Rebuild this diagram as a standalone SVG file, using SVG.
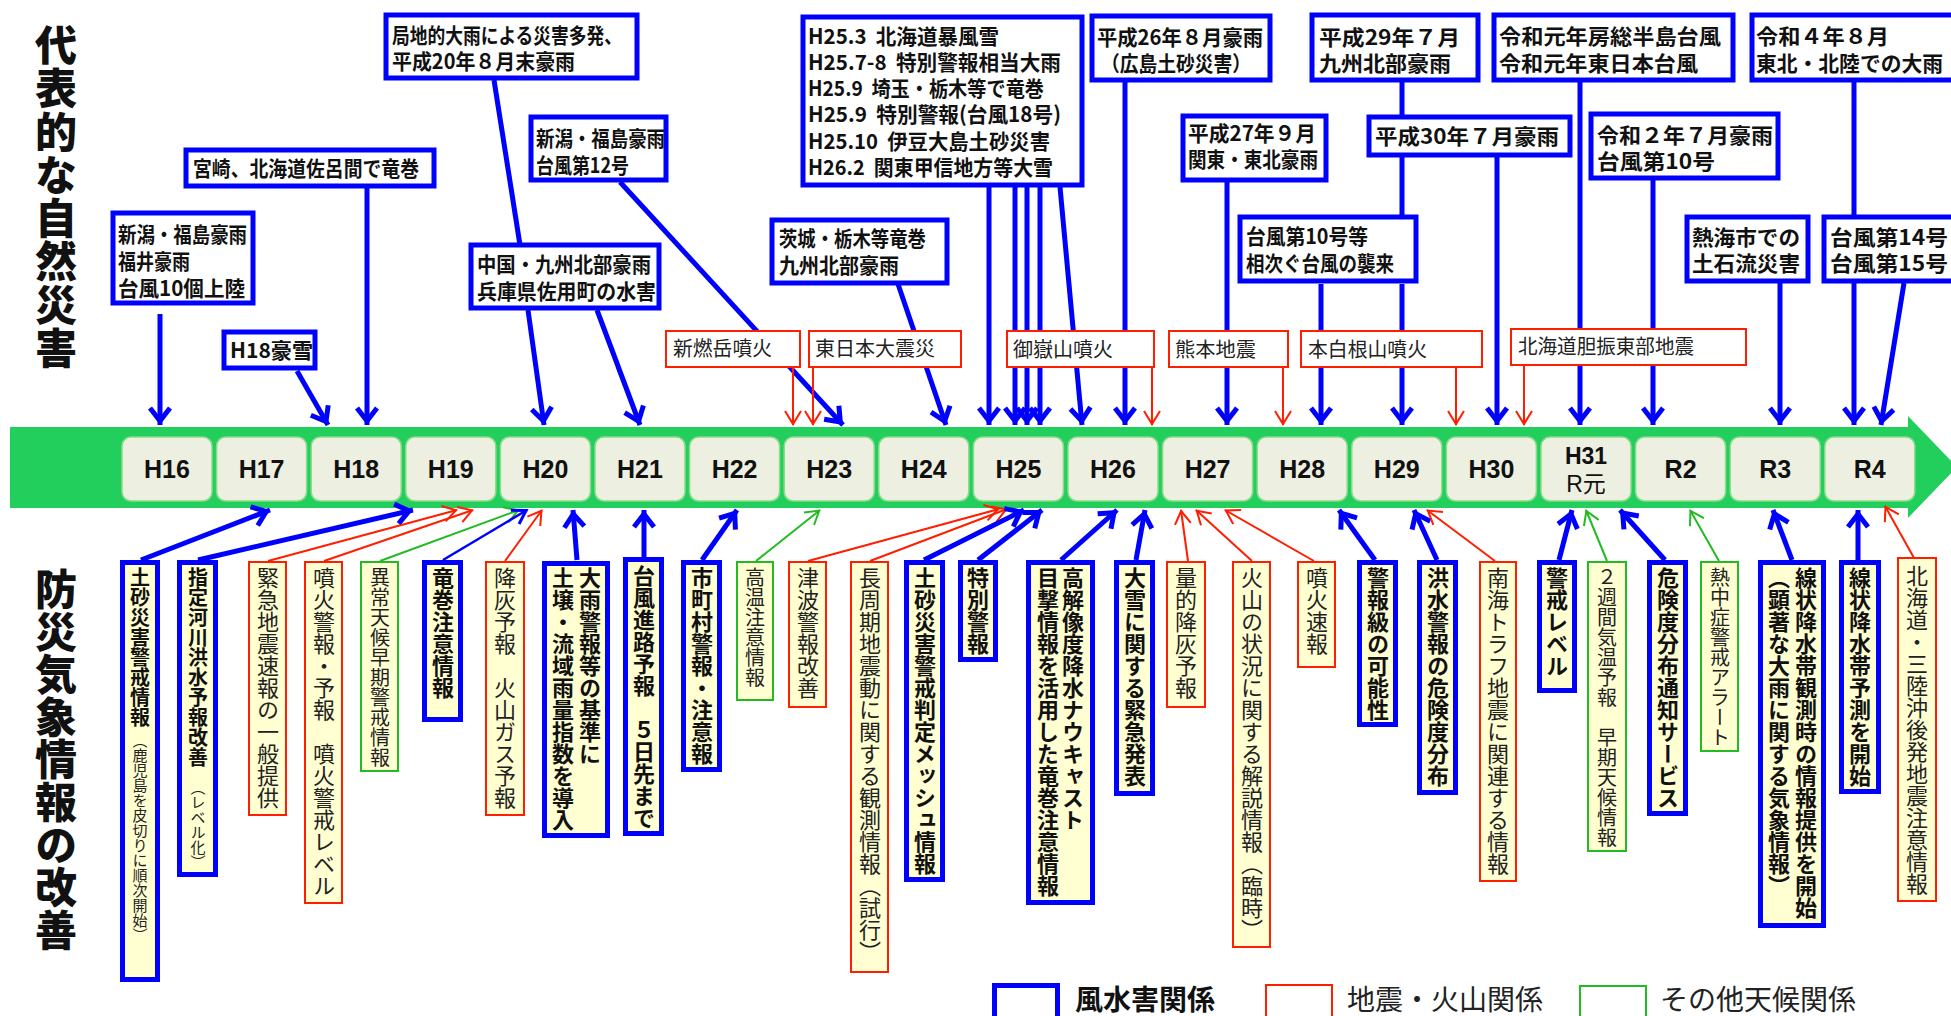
<svg xmlns="http://www.w3.org/2000/svg" width="1951" height="1016" viewBox="0 0 1951 1016">
<defs>
<style>
.tb{fill:#fff;stroke:#0000FF;stroke-width:5}
.tr{fill:#fff;stroke:#FF1E00;stroke-width:2}
.bb{fill:#FFFFD2;stroke:#0000FF;stroke-width:5}
.br{fill:#FFFFD2;stroke:#FF1E00;stroke-width:2}
.bg{fill:#FFFFD2;stroke:#22BB22;stroke-width:2}
.ht{font-family:"Noto Sans CJK JP","Liberation Sans",sans-serif;font-size:21px;font-weight:700;fill:#111}
.hr{font-family:"Noto Sans CJK JP","Liberation Sans",sans-serif;font-size:20px;font-weight:400;fill:#222}
.v{writing-mode:vertical-rl;font-family:"Noto Sans CJK JP",sans-serif;font-size:22px;font-weight:400;fill:#222}
.vb{font-weight:700;fill:#111}
.v20{font-size:20px}
.v15{font-size:15px}
.tt{writing-mode:vertical-rl;font-family:"Noto Sans CJK JP",sans-serif;font-size:42px;font-weight:900;fill:#111}
.yr{font-family:"Liberation Sans","Noto Sans CJK JP",sans-serif;font-size:25px;font-weight:700;fill:#111;text-anchor:middle}
.yb{fill:#EDEFE1;stroke:#8ADB8A;stroke-width:1.5}
.lg{font-family:"Noto Sans CJK JP",sans-serif;font-size:28px;fill:#222}
.cb{fill:none;stroke:#0000FF;stroke-width:5}
.cbt{fill:none;stroke:#0000FF;stroke-width:2.5}
.cr{fill:none;stroke:#FF1E00;stroke-width:2}
.cg{fill:none;stroke:#22BB22;stroke-width:2}
.ab{marker-end:url(#mb)}
.abt{marker-end:url(#mbt)}
.ar{marker-end:url(#mr)}
.ag{marker-end:url(#mg)}
</style>
<marker id="mb" markerUnits="userSpaceOnUse" viewBox="-22 -14 26 28" refX="0" refY="0" markerWidth="26" markerHeight="28" orient="auto" overflow="visible">
<path d="M-17,-10 L-4,0 L-17,10" fill="none" stroke="#0000FF" stroke-width="5"/>
</marker>
<marker id="mbt" markerUnits="userSpaceOnUse" viewBox="-22 -14 26 28" refX="0" refY="0" markerWidth="26" markerHeight="28" orient="auto" overflow="visible">
<path d="M-14,-8 L-1,0 L-14,8" fill="none" stroke="#0000FF" stroke-width="3"/>
</marker>
<marker id="mr" markerUnits="userSpaceOnUse" viewBox="-22 -14 26 28" refX="0" refY="0" markerWidth="26" markerHeight="28" orient="auto" overflow="visible">
<path d="M-14,-8 L-1,0 L-14,8" fill="none" stroke="#FF1E00" stroke-width="2"/>
</marker>
<marker id="mg" markerUnits="userSpaceOnUse" viewBox="-22 -14 26 28" refX="0" refY="0" markerWidth="26" markerHeight="28" orient="auto" overflow="visible">
<path d="M-14,-8 L-1,0 L-14,8" fill="none" stroke="#22BB22" stroke-width="2"/>
</marker>
</defs>

<g id="titles">
<text class="tt" x="56" y="24" style="letter-spacing:1.3px">代表的な自然災害</text>
<text class="tt" x="56" y="568" style="letter-spacing:0.6px">防災気象情報の改善</text>
</g>

<g id="timeline">
<path d="M10,427 H1908 V416 L1957,467 L1908,518 V508 H10 Z" fill="#22CF5C"/>
<rect class="yb" x="122" y="437" width="90" height="64" rx="9"/><text class="yr" x="167" y="478">H16</text>
<rect class="yb" x="216.6" y="437" width="90" height="64" rx="9"/><text class="yr" x="261.6" y="478">H17</text>
<rect class="yb" x="311.2" y="437" width="90" height="64" rx="9"/><text class="yr" x="356.2" y="478">H18</text>
<rect class="yb" x="405.8" y="437" width="90" height="64" rx="9"/><text class="yr" x="450.8" y="478">H19</text>
<rect class="yb" x="500.4" y="437" width="90" height="64" rx="9"/><text class="yr" x="545.4" y="478">H20</text>
<rect class="yb" x="595" y="437" width="90" height="64" rx="9"/><text class="yr" x="640" y="478">H21</text>
<rect class="yb" x="689.6" y="437" width="90" height="64" rx="9"/><text class="yr" x="734.6" y="478">H22</text>
<rect class="yb" x="784.2" y="437" width="90" height="64" rx="9"/><text class="yr" x="829.2" y="478">H23</text>
<rect class="yb" x="878.8" y="437" width="90" height="64" rx="9"/><text class="yr" x="923.8" y="478">H24</text>
<rect class="yb" x="973.4" y="437" width="90" height="64" rx="9"/><text class="yr" x="1018.4" y="478">H25</text>
<rect class="yb" x="1068" y="437" width="90" height="64" rx="9"/><text class="yr" x="1113" y="478">H26</text>
<rect class="yb" x="1162.6" y="437" width="90" height="64" rx="9"/><text class="yr" x="1207.6" y="478">H27</text>
<rect class="yb" x="1257.2" y="437" width="90" height="64" rx="9"/><text class="yr" x="1302.2" y="478">H28</text>
<rect class="yb" x="1351.8" y="437" width="90" height="64" rx="9"/><text class="yr" x="1396.8" y="478">H29</text>
<rect class="yb" x="1446.4" y="437" width="90" height="64" rx="9"/><text class="yr" x="1491.4" y="478">H30</text>
<rect class="yb" x="1541" y="437" width="90" height="64" rx="9"/><text class="yr" x="1586" y="464" style="font-size:23px">H31</text><text class="yr" x="1586" y="492" style="font-size:23px;font-weight:400">R元</text>
<rect class="yb" x="1635.6" y="437" width="90" height="64" rx="9"/><text class="yr" x="1680.6" y="478">R2</text>
<rect class="yb" x="1730.2" y="437" width="90" height="64" rx="9"/><text class="yr" x="1775.2" y="478">R3</text>
<rect class="yb" x="1824.8" y="437" width="90" height="64" rx="9"/><text class="yr" x="1869.8" y="478">R4</text>
</g>

<g id="connectors">
<path class="cb ab" d="M160,314 L160,425"/>
<path class="cb ab" d="M297,371 L328,425"/>
<path class="cb ab" d="M367,188 L367,425"/>
<path class="cb" d="M494,80 L520,245"/>
<path class="cb ab" d="M528,310 L544,425"/>
<path class="cb ab" d="M597,310 L640,425"/>
<path class="cb ab" d="M620,182 L843,425"/>
<path class="cb ab" d="M898,284 L946,425"/>
<path class="cb ab" d="M989,187 L989,425"/>
<path class="cb ab" d="M1015,187 L1015,425"/>
<path class="cb ab" d="M1027,187 L1027,425"/>
<path class="cb ab" d="M1040,187 L1040,425"/>
<path class="cb ab" d="M1060,187 L1082,425"/>
<path class="cb ab" d="M1125,82 L1125,425"/>
<path class="cb ab" d="M1227,182 L1227,425"/>
<path class="cb ab" d="M1321,284 L1321,425"/>
<path class="cb" d="M1402,82 L1402,117 M1402,157 L1402,217"/>
<path class="cb ab" d="M1402,284 L1402,425"/>
<path class="cb ab" d="M1497,157 L1497,425"/>
<path class="cb ab" d="M1580,82 L1580,425"/>
<path class="cb ab" d="M1653,180 L1653,425"/>
<path class="cb ab" d="M1780,283 L1780,425"/>
<path class="cb" d="M1854,82 L1854,217"/>
<path class="cb ab" d="M1854,283 L1854,425"/>
<path class="cb ab" d="M1904,283 L1881,425"/>
<path class="cr ar" d="M793,368 L793,425"/>
<path class="cr ar" d="M813,367 L813,425"/>
<path class="cr ar" d="M1152,368 L1152,425"/>
<path class="cr ar" d="M1283,368 L1283,425"/>
<path class="cr ar" d="M1456,368 L1456,425"/>
<path class="cr ar" d="M1524,365 L1524,425"/>

<path class="cb ab" d="M141,560 L270,510"/>
<path class="cb ab" d="M198,560 L413,510"/>
<path class="cr ar" d="M268,561 L457,510"/>
<path class="cr ar" d="M324,561 L473,510"/>
<path class="cg ag" d="M380,561 L519,510"/>
<path class="cbt abt" d="M443,560 L527,510"/>
<path class="cr ar" d="M505,561 L542,510"/>
<path class="cb ab" d="M577,560 L573,510"/>
<path class="cb ab" d="M644,558 L644,510"/>
<path class="cb ab" d="M702,560 L737,510"/>
<path class="cg ag" d="M756,561 L820,510"/>
<path class="cr ar" d="M808,561 L999,509"/>
<path class="cr ar" d="M870,561 L1007,509"/>
<path class="cb ab" d="M924,560 L1024,510"/>
<path class="cb ab" d="M978,560 L1042,510"/>
<path class="cb ab" d="M1061,560 L1117,510"/>
<path class="cb ab" d="M1136,560 L1145,510"/>
<path class="cr ar" d="M1188,561 L1181,510"/>
<path class="cr ar" d="M1252,561 L1196,510"/>
<path class="cr ar" d="M1314,561 L1225,510"/>
<path class="cb ab" d="M1375,560 L1339,510"/>
<path class="cb ab" d="M1437,560 L1414,510"/>
<path class="cr ar" d="M1495,561 L1427,510"/>
<path class="cb ab" d="M1559,560 L1572,510"/>
<path class="cg ag" d="M1607,561 L1586,510"/>
<path class="cb ab" d="M1665,560 L1620,510"/>
<path class="cg ag" d="M1719,561 L1690,510"/>
<path class="cb ab" d="M1792,560 L1773,510"/>
<path class="cb ab" d="M1858,560 L1858,510"/>
<path class="cr ar" d="M1914,558 L1885,506"/>
</g>

<g id="disasters">
<g id="d-h16"><rect class="tb" x="113" y="213" width="140" height="90"/>
<text class="ht" x="118" y="242" textLength="129" lengthAdjust="spacingAndGlyphs">新潟・福島豪雨</text>
<text class="ht" x="118" y="269" textLength="72" lengthAdjust="spacingAndGlyphs">福井豪雨</text>
<text class="ht" x="118" y="296" textLength="127" lengthAdjust="spacingAndGlyphs">台風10個上陸</text></g>
<g id="d-h18snow"><rect class="tb" x="224" y="332" width="91" height="36"/>
<text class="ht" x="230" y="358" textLength="83" lengthAdjust="spacingAndGlyphs">H18豪雪</text></g>
<g id="d-tornado"><rect class="tb" x="186" y="150" width="248" height="36"/>
<text class="ht" x="193" y="176" textLength="226" lengthAdjust="spacingAndGlyphs">宮崎、北海道佐呂間で竜巻</text></g>
<g id="d-h20"><rect class="tb" x="386" y="15" width="251" height="63"/>
<text class="ht" x="392" y="43" textLength="230" lengthAdjust="spacingAndGlyphs">局地的大雨による災害多発、</text>
<text class="ht" x="392" y="69" textLength="183" lengthAdjust="spacingAndGlyphs">平成20年８月末豪雨</text></g>
<g id="d-h21"><rect class="tb" x="471" y="245" width="188" height="63"/>
<text class="ht" x="477" y="272" textLength="174" lengthAdjust="spacingAndGlyphs">中国・九州北部豪雨</text>
<text class="ht" x="477" y="299" textLength="179" lengthAdjust="spacingAndGlyphs">兵庫県佐用町の水害</text></g>
<g id="d-h23"><rect class="tb" x="531" y="117" width="135" height="63"/>
<text class="ht" x="536" y="146" textLength="129" lengthAdjust="spacingAndGlyphs">新潟・福島豪雨</text>
<text class="ht" x="536" y="173" textLength="93" lengthAdjust="spacingAndGlyphs">台風第12号</text></g>
<g id="d-h24"><rect class="tb" x="772" y="220" width="175" height="63"/>
<text class="ht" x="779" y="246" textLength="147" lengthAdjust="spacingAndGlyphs">茨城・栃木等竜巻</text>
<text class="ht" x="779" y="273" textLength="120" lengthAdjust="spacingAndGlyphs">九州北部豪雨</text></g>
<g id="d-h25"><rect class="tb" x="803" y="17" width="279" height="168"/>
<text class="ht" x="808" y="44" textLength="191" lengthAdjust="spacingAndGlyphs">H25.3&#160;&#160;北海道暴風雪</text>
<text class="ht" x="808" y="70" textLength="253" lengthAdjust="spacingAndGlyphs">H25.7-8&#160;&#160;特別警報相当大雨</text>
<text class="ht" x="808" y="96" textLength="236" lengthAdjust="spacingAndGlyphs">H25.9&#160;&#160;埼玉・栃木等で竜巻</text>
<text class="ht" x="808" y="122" textLength="253" lengthAdjust="spacingAndGlyphs">H25.9&#160;&#160;特別警報(台風18号)</text>
<text class="ht" x="808" y="149" textLength="242" lengthAdjust="spacingAndGlyphs">H25.10&#160;&#160;伊豆大島土砂災害</text>
<text class="ht" x="808" y="175" textLength="245" lengthAdjust="spacingAndGlyphs">H26.2&#160;&#160;関東甲信地方等大雪</text></g>
<g id="d-h26"><rect class="tb" x="1092" y="16" width="178" height="64"/>
<text class="ht" x="1097" y="45" textLength="166" lengthAdjust="spacingAndGlyphs">平成26年８月豪雨</text>
<text class="ht" x="1101" y="71" textLength="150" lengthAdjust="spacingAndGlyphs">（広島土砂災害）</text></g>
<g id="d-h27"><rect class="tb" x="1183" y="116" width="143" height="64"/>
<text class="ht" x="1188" y="141" textLength="128" lengthAdjust="spacingAndGlyphs">平成27年９月</text>
<text class="ht" x="1188" y="167" textLength="130" lengthAdjust="spacingAndGlyphs">関東・東北豪雨</text></g>
<g id="d-h28"><rect class="tb" x="1240" y="217" width="176" height="64"/>
<text class="ht" x="1246" y="244" textLength="122" lengthAdjust="spacingAndGlyphs">台風第10号等</text>
<text class="ht" x="1246" y="271" textLength="148" lengthAdjust="spacingAndGlyphs">相次ぐ台風の襲来</text></g>
<g id="d-h29"><rect class="tb" x="1312" y="15" width="166" height="65"/>
<text class="ht" x="1319" y="45" textLength="141" lengthAdjust="spacingAndGlyphs">平成29年７月</text>
<text class="ht" x="1319" y="71" textLength="132" lengthAdjust="spacingAndGlyphs">九州北部豪雨</text></g>
<g id="d-h30"><rect class="tb" x="1369" y="117" width="201" height="38"/>
<text class="ht" x="1375" y="144" textLength="184" lengthAdjust="spacingAndGlyphs">平成30年７月豪雨</text></g>
<g id="d-r1"><rect class="tb" x="1494" y="15" width="239" height="65"/>
<text class="ht" x="1499" y="44" textLength="222" lengthAdjust="spacingAndGlyphs">令和元年房総半島台風</text>
<text class="ht" x="1499" y="71" textLength="199" lengthAdjust="spacingAndGlyphs">令和元年東日本台風</text></g>
<g id="d-r2"><rect class="tb" x="1591" y="114" width="187" height="64"/>
<text class="ht" x="1597" y="143" textLength="176" lengthAdjust="spacingAndGlyphs">令和２年７月豪雨</text>
<text class="ht" x="1597" y="169" textLength="118" lengthAdjust="spacingAndGlyphs">台風第10号</text></g>
<g id="d-r3"><rect class="tb" x="1687" y="217" width="121" height="64"/>
<text class="ht" x="1692" y="245" textLength="108" lengthAdjust="spacingAndGlyphs">熱海市での</text>
<text class="ht" x="1692" y="271" textLength="108" lengthAdjust="spacingAndGlyphs">土石流災害</text></g>
<g id="d-r4a"><rect class="tb" x="1752" y="15" width="230" height="65"/>
<text class="ht" x="1756" y="44" textLength="133" lengthAdjust="spacingAndGlyphs">令和４年８月</text>
<text class="ht" x="1756" y="71" textLength="187" lengthAdjust="spacingAndGlyphs">東北・北陸での大雨</text></g>
<g id="d-r4b"><rect class="tb" x="1824" y="217" width="160" height="64"/>
<text class="ht" x="1830" y="245" textLength="118" lengthAdjust="spacingAndGlyphs">台風第14号</text>
<text class="ht" x="1830" y="271" textLength="118" lengthAdjust="spacingAndGlyphs">台風第15号</text></g>
<g id="e-shinmoe"><rect class="tr" x="666" y="331" width="134" height="36"/>
<text class="hr" x="673" y="356" textLength="99" lengthAdjust="spacingAndGlyphs">新燃岳噴火</text></g>
<g id="e-tohoku"><rect class="tr" x="809" y="331" width="152" height="36"/>
<text class="hr" x="815" y="356" textLength="120" lengthAdjust="spacingAndGlyphs">東日本大震災</text></g>
<g id="e-ontake"><rect class="tr" x="1007" y="331" width="147" height="36"/>
<text class="hr" x="1013" y="357" textLength="100" lengthAdjust="spacingAndGlyphs">御嶽山噴火</text></g>
<g id="e-kumamoto"><rect class="tr" x="1169" y="331" width="119" height="36"/>
<text class="hr" x="1175" y="357" textLength="81" lengthAdjust="spacingAndGlyphs">熊本地震</text></g>
<g id="e-kusatsu"><rect class="tr" x="1301" y="331" width="181" height="36"/>
<text class="hr" x="1308" y="357" textLength="119" lengthAdjust="spacingAndGlyphs">本白根山噴火</text></g>
<g id="e-iburi"><rect class="tr" x="1511" y="329" width="235" height="36"/>
<text class="hr" x="1518" y="354" textLength="176" lengthAdjust="spacingAndGlyphs">北海道胆振東部地震</text></g>
</g>

<g id="improvements">
<g id="i01"><rect class="bb" x="122.5" y="562.5" width="35" height="417"/>
<text class="v vb v20" x="140" y="567">土砂災害警戒情報</text>
<text class="v v15" x="140" y="733">（鹿児島を皮切りに順次開始）</text></g>
<g id="i02"><rect class="bb" x="179.5" y="562.5" width="36" height="312"/>
<text class="v vb v20" x="198" y="567">指定河川洪水予報改善</text>
<text class="v v15" x="198" y="780">（レベル化）</text></g>
<g id="i03"><rect class="br" x="249" y="562" width="37" height="253"/>
<text class="v" x="268" y="567">緊急地震速報の一般提供</text></g>
<g id="i04"><rect class="br" x="305" y="562" width="37" height="341"/>
<text class="v" x="324" y="567">噴火警報・予報　噴火警戒レベル</text></g>
<g id="i05"><rect class="bg" x="361" y="562" width="37" height="209"/>
<text class="v v20" x="380" y="567">異常天候早期警戒情報</text></g>
<g id="i06"><rect class="bb" x="424.5" y="562.5" width="36" height="157"/>
<text class="v vb" x="443" y="567">竜巻注意情報</text></g>
<g id="i07"><rect class="br" x="486" y="562" width="38" height="253"/>
<text class="v" x="505" y="567">降灰予報　火山ガス予報</text></g>
<g id="i08"><rect class="bb" x="544.5" y="563.5" width="63" height="272"/>
<text class="v vb" x="590" y="567">大雨警報等の基準に</text>
<text class="v vb" x="563" y="567">土壌・流域雨量指数を導入</text></g>
<g id="i09"><rect class="bb" x="625.5" y="559.5" width="36" height="274"/>
<text class="v vb" x="644" y="565">台風進路予報　５日先まで</text></g>
<g id="i10"><rect class="bb" x="683.5" y="562.5" width="36" height="207"/>
<text class="v vb" x="702" y="567">市町村警報・注意報</text></g>
<g id="i11"><rect class="bg" x="737" y="562" width="36" height="138"/>
<text class="v v20" x="755" y="567">高温注意情報</text></g>
<g id="i12"><rect class="br" x="789" y="562" width="37" height="145"/>
<text class="v" x="808" y="567">津波警報改善</text></g>
<g id="i13"><rect class="br" x="851" y="562" width="37" height="410"/>
<text class="v" x="870" y="567">長周期地震動に関する観測情報（試行）</text></g>
<g id="i14"><rect class="bb" x="906.5" y="562.5" width="36" height="317"/>
<text class="v vb" x="925" y="567">土砂災害警戒判定メッシュ情報</text></g>
<g id="i15"><rect class="bb" x="960.5" y="562.5" width="35" height="97"/>
<text class="v vb" x="978" y="567">特別警報</text></g>
<g id="i16"><rect class="bb" x="1028.5" y="562.5" width="64" height="340"/>
<text class="v vb" x="1073" y="567">高解像度降水ナウキャスト</text>
<text class="v vb" x="1048" y="567">目撃情報を活用した竜巻注意情報</text></g>
<g id="i17"><rect class="bb" x="1116.5" y="562.5" width="36" height="231"/>
<text class="v vb" x="1135" y="567">大雪に関する緊急発表</text></g>
<g id="i18"><rect class="br" x="1167" y="562" width="38" height="145"/>
<text class="v" x="1186" y="567">量的降灰予報</text></g>
<g id="i19"><rect class="br" x="1233" y="562" width="37" height="385"/>
<text class="v" x="1252" y="567">火山の状況に関する解説情報（臨時）</text></g>
<g id="i20"><rect class="br" x="1298" y="562" width="37" height="105"/>
<text class="v" x="1317" y="567">噴火速報</text></g>
<g id="i21"><rect class="bb" x="1359.5" y="562.5" width="36" height="162"/>
<text class="v vb" x="1378" y="567">警報級の可能性</text></g>
<g id="i22"><rect class="bb" x="1419.5" y="562.5" width="36" height="230"/>
<text class="v vb" x="1438" y="567">洪水警報の危険度分布</text></g>
<g id="i23"><rect class="br" x="1480" y="562" width="36" height="319"/>
<text class="v" x="1498" y="567">南海トラフ地震に関連する情報</text></g>
<g id="i24"><rect class="bb" x="1539.5" y="562.5" width="35" height="128"/>
<text class="v vb" x="1557" y="567">警戒レベル</text></g>
<g id="i25"><rect class="bg" x="1588" y="562" width="38" height="289"/>
<text class="v v20" x="1607" y="567">２週間気温予報　早期天候情報</text></g>
<g id="i26"><rect class="bb" x="1649.5" y="562.5" width="36" height="251"/>
<text class="v vb" x="1668" y="567">危険度分布通知サービス</text></g>
<g id="i27"><rect class="bg" x="1701" y="562" width="37" height="189"/>
<text class="v v20" x="1720" y="567">熱中症警戒アラート</text></g>
<g id="i28"><rect class="bb" x="1760.5" y="562.5" width="63" height="363"/>
<text class="v vb" x="1806" y="567">線状降水帯観測時の情報提供を開始</text>
<text class="v vb" x="1779" y="567">（顕著な大雨に関する気象情報）</text></g>
<g id="i29"><rect class="bb" x="1841.5" y="562.5" width="37" height="229"/>
<text class="v vb" x="1860" y="567">線状降水帯予測を開始</text></g>
<g id="i30"><rect class="br" x="1898" y="558" width="38" height="343"/>
<text class="v" x="1917" y="565">北海道・三陸沖後発地震注意情報</text></g>
</g>

<g id="legend">
<rect class="tb" x="994.5" y="985.5" width="63" height="40"/>
<text class="lg" x="1075" y="1010" style="font-weight:700;fill:#111">風水害関係</text>
<rect class="tr" x="1266" y="985" width="66" height="40"/>
<text class="lg" x="1347" y="1010">地震・火山関係</text>
<rect class="tr" x="1580" y="986" width="66" height="40" style="stroke:#22BB22"/>
<text class="lg" x="1660" y="1010">その他天候関係</text>
</g>
</svg>
